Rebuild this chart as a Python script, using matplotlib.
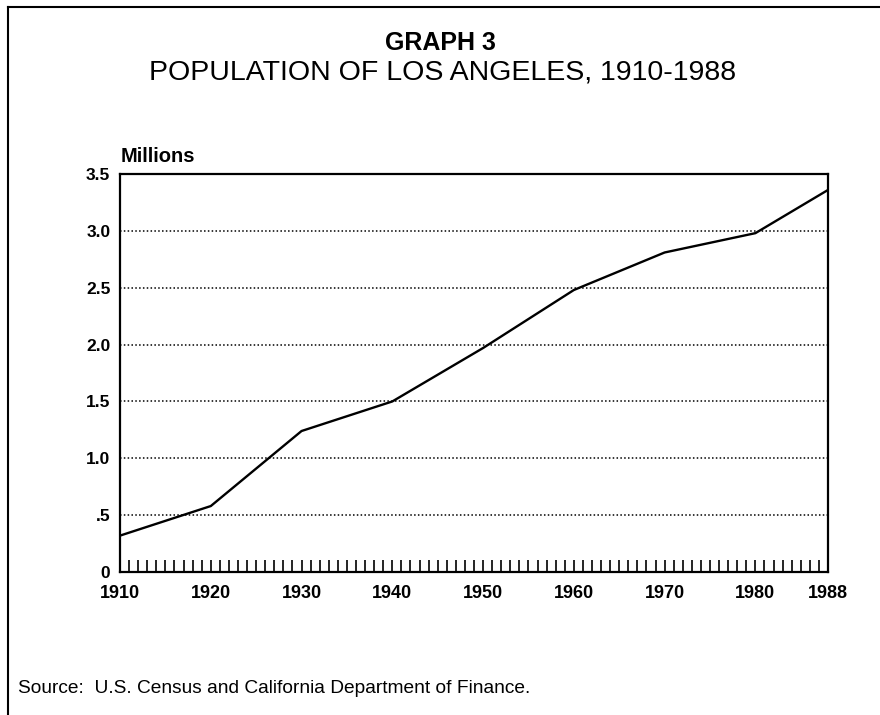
import matplotlib.pyplot as plt
from matplotlib.lines import Line2D
import numpy as np

plt.rcParams['font.family'] = ['Liberation Sans', 'DejaVu Sans']

years = [1910, 1920, 1930, 1940, 1950, 1960, 1970, 1980, 1988]
population = [0.32, 0.58, 1.24, 1.50, 1.97, 2.48, 2.81, 2.98, 3.36]

xticks = [1910, 1920, 1930, 1940, 1950, 1960, 1970, 1980, 1988]
yticks = [0, 0.5, 1.0, 1.5, 2.0, 2.5, 3.0, 3.5]
ylabels = ["0", ".5", "1.0", "1.5", "2.0", "2.5", "3.0", "3.5"]

fig = plt.figure(figsize=(8.8, 7.15), dpi=100)
ax = fig.add_axes([0.1364, 0.2, 0.8045, 0.5566])

# dotted gridlines
for v in yticks[1:-1]:
    ax.axhline(v, color='black', lw=1.1, ls=(0, (1, 1.5)), zorder=1)

ax.plot(years, population, color='black', lw=1.7, zorder=3)

ax.set_xlim(1910, 1988)
ax.set_ylim(0, 3.5)

ax.set_xticks(xticks)
ax.set_xticklabels([str(x) for x in xticks], fontweight='bold', fontsize=13)
ax.set_xticks(np.arange(1910, 1989), minor=True)
ax.tick_params(axis='x', which='both', direction='in', length=9, width=1.2, pad=9)
ax.set_yticks(yticks)
ax.set_yticklabels(ylabels, fontweight='bold', fontsize=12.5)
ax.tick_params(axis='y', length=0, pad=7)

for s in ax.spines.values():
    s.set_linewidth(1.6)

fig.text(0.1375, 0.768, "Millions", fontweight='bold', fontsize=14.5, ha='left', va='bottom')
fig.text(0.5, 0.940, "GRAPH 3", fontweight='bold', fontsize=18, ha='center', va='center')
fig.text(0.503, 0.898, "POPULATION OF LOS ANGELES, 1910-1988", fontsize=20.5, ha='center', va='center')
fig.text(0.020, 0.037, "Source:  U.S. Census and California Department of Finance.",
         fontsize=13.8, ha='left', va='center')

# frame of the scanned page (top and left edges)
fig.add_artist(Line2D([0.009, 1.0], [0.990, 0.990], color='black', lw=1.5))
fig.add_artist(Line2D([0.009, 0.009], [0.0, 0.990], color='black', lw=1.5))

fig.savefig('out.png', dpi=100)
